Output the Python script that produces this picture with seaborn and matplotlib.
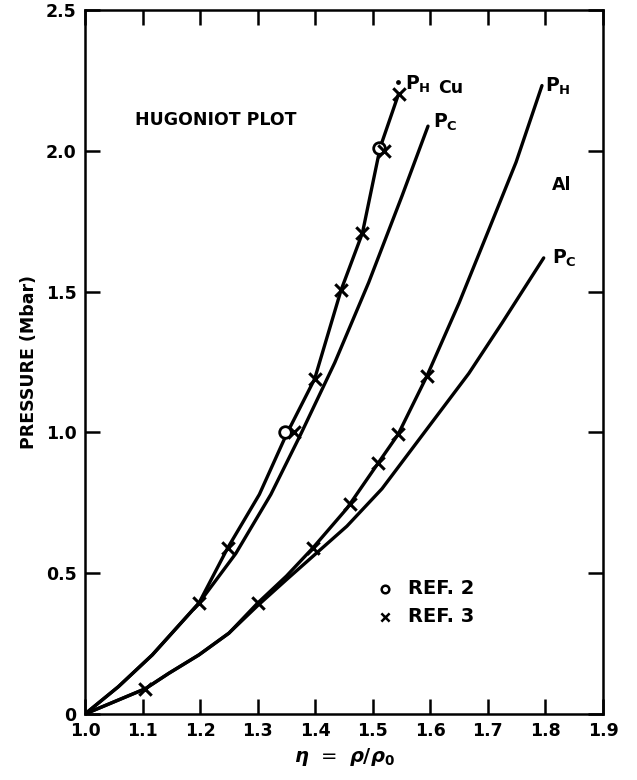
import matplotlib
matplotlib.use("Agg")
import matplotlib.pyplot as plt
import seaborn as sns
import pandas as pd

# ---- data ----
cu_ph_eta = [1.0, 1.058, 1.117, 1.198, 1.248, 1.303, 1.35, 1.399, 1.445, 1.482, 1.513, 1.545]
cu_ph_p = [0.0, 0.097, 0.21, 0.394, 0.59, 0.78, 0.993, 1.19, 1.506, 1.708, 2.013, 2.203]

cu_pc_eta = [1.0, 1.058, 1.117, 1.198, 1.262, 1.323, 1.374, 1.434, 1.493, 1.551, 1.596]
cu_pc_p = [0.0, 0.097, 0.21, 0.394, 0.57, 0.78, 0.99, 1.248, 1.533, 1.841, 2.088]

al_ph_eta = [1.0, 1.105, 1.146, 1.198, 1.25, 1.30, 1.35, 1.396, 1.455, 1.509, 1.544,
             1.594, 1.65, 1.702, 1.749, 1.794]
al_ph_p = [0.0, 0.09, 0.145, 0.21, 0.287, 0.394, 0.49, 0.59, 0.73, 0.89, 0.993,
           1.2, 1.46, 1.722, 1.96, 2.232]

al_pc_eta = [1.0, 1.105, 1.146, 1.198, 1.25, 1.30, 1.35, 1.455, 1.516, 1.597, 1.667, 1.725, 1.797]
al_pc_p = [0.0, 0.09, 0.145, 0.21, 0.287, 0.385, 0.477, 0.667, 0.80, 1.02, 1.21, 1.39, 1.62]

ref2_eta = [1.348, 1.511]
ref2_p = [1.0, 2.01]

ref3_eta = [1.198, 1.248, 1.364, 1.399, 1.445, 1.482, 1.52, 1.545,
            1.105, 1.30, 1.396, 1.46, 1.509, 1.544, 1.594]
ref3_p = [0.394, 0.59, 1.0, 1.19, 1.506, 1.708, 2.0, 2.203,
          0.09, 0.394, 0.59, 0.745, 0.89, 0.993, 1.2]

x_ticks = [1.0, 1.1, 1.2, 1.3, 1.4, 1.5, 1.6, 1.7, 1.8, 1.9]
x_ticklabels = ["1.0", "1.1", "1.2", "1.3", "1.4", "1.5", "1.6", "1.7", "1.8", "1.9"]
y_ticks = [0.0, 0.5, 1.0, 1.5, 2.0, 2.5]
y_ticklabels = ["0", "0.5", "1.0", "1.5", "2.0", "2.5"]

# ---- style ----
sns.set_style("ticks")
plt.rcParams["font.family"] = ["DejaVu Sans"]
plt.rcParams["font.weight"] = "bold"
plt.rcParams["mathtext.fontset"] = "dejavusans"
for k in ["text.color", "axes.labelcolor", "xtick.color", "ytick.color", "axes.edgecolor"]:
    plt.rcParams[k] = "black"

fig = plt.figure(figsize=(6.37, 7.8), dpi=100)
ax = fig.add_axes([0.1334, 0.0846, 0.8132, 0.9024])

curves = [
    (cu_ph_eta, cu_ph_p),
    (cu_pc_eta, cu_pc_p),
    (al_ph_eta, al_ph_p),
    (al_pc_eta, al_pc_p),
]
for xs, ys in curves:
    df = pd.DataFrame({"eta": xs, "p": ys})
    sns.lineplot(data=df, x="eta", y="p", ax=ax, color="black", lw=2.4,
                 sort=False, estimator=None)

df2 = pd.DataFrame({"eta": ref2_eta, "p": ref2_p})
sns.scatterplot(data=df2, x="eta", y="p", ax=ax, marker="o", s=70,
                facecolor="white", edgecolor="black", linewidth=2, zorder=5)
df3 = pd.DataFrame({"eta": ref3_eta, "p": ref3_p})
sns.scatterplot(data=df3, x="eta", y="p", ax=ax, marker="x", s=80,
                color="black", linewidth=2.2, zorder=5)
# small dot above the top Cu point
ax.scatter([1.543], [2.245], marker="o", s=6, color="black", zorder=5)

ax.set_xlim(1.0, 1.9)
ax.set_ylim(0.0, 2.5)
ax.set_xticks(x_ticks)
ax.set_xticklabels(x_ticklabels)
ax.set_yticks(y_ticks)
ax.set_yticklabels(y_ticklabels)
ax.tick_params(direction="in", length=11, width=1.8, labelsize=12.5,
               top=True, right=True, pad=6, colors="black")
for lab in ax.get_xticklabels() + ax.get_yticklabels():
    lab.set_fontweight("bold")
for sp in ax.spines.values():
    sp.set_linewidth(1.8)
    sp.set_color("black")

ax.set_xlabel(r"$\eta$  =  $\rho/\rho_0$", fontsize=14, labelpad=4)
ax.set_ylabel("PRESSURE (Mbar)", fontsize=12.5, fontweight="bold", labelpad=6)

# annotations
ax.text(1.227, 2.11, "HUGONIOT PLOT", fontsize=12.5, fontweight="bold",
        ha="center", va="center")
ax.text(1.556, 2.235, r"$\mathbf{P_H}$", fontsize=13.5, ha="left", va="center")
ax.text(1.614, 2.225, "Cu", fontsize=12.5, fontweight="bold", ha="left", va="center")
ax.text(1.605, 2.10, r"$\mathbf{P_C}$", fontsize=13.5, ha="left", va="center")
ax.text(1.80, 2.23, r"$\mathbf{P_H}$", fontsize=13.5, ha="left", va="center")
ax.text(1.812, 1.88, "Al", fontsize=12.5, fontweight="bold", ha="left", va="center")
ax.text(1.812, 1.62, r"$\mathbf{P_C}$", fontsize=13.5, ha="left", va="center")

# legend (hand-drawn style key)
ax.scatter([1.522], [0.445], marker="o", s=30, facecolor="white",
           edgecolor="black", linewidth=1.8, zorder=5)
ax.text(1.562, 0.445, "REF. 2", fontsize=14, fontweight="bold", ha="left", va="center")
ax.scatter([1.522], [0.345], marker="x", s=35, color="black", linewidth=1.8, zorder=5)
ax.text(1.562, 0.345, "REF. 3", fontsize=14, fontweight="bold", ha="left", va="center")

fig.savefig("out.png", dpi=100)
